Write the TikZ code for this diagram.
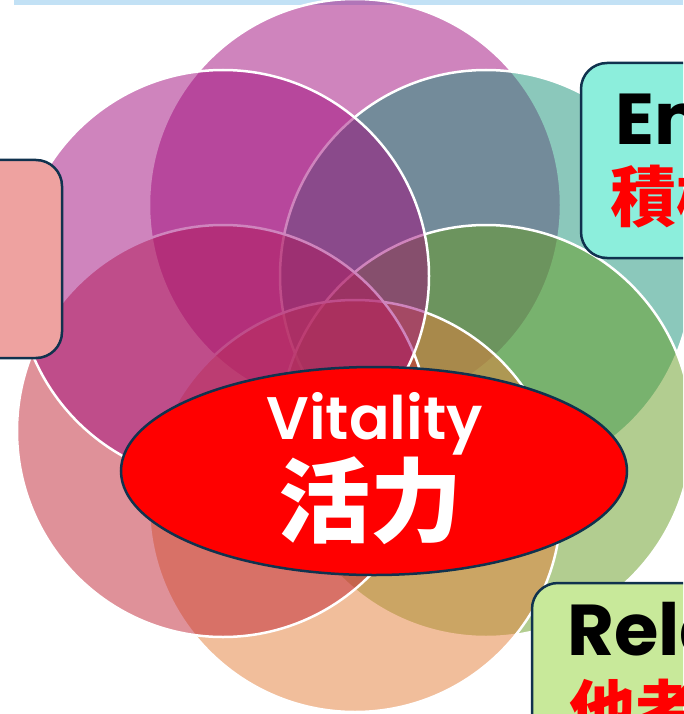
\documentclass[tikz,border=0pt]{standalone}
\usepackage{fontspec}
\usetikzlibrary{shapes.geometric}
\setmainfont{Poppins}
\newfontfamily\medfont{Poppins SemiBold}
\newfontfamily\cjk{Noto Sans CJK JP}
\definecolor{cTop}{RGB}{161,11,125}
\definecolor{cTeal}{RGB}{25,147,121}
\definecolor{cGreen}{RGB}{103,157,35}
\definecolor{cPeach}{RGB}{229,127,57}
\definecolor{cRose}{RGB}{193,37,53}
\definecolor{navy}{RGB}{16,50,78}
\definecolor{barblue}{RGB}{194,225,245}
\definecolor{aqua}{RGB}{140,238,220}
\definecolor{lime}{RGB}{200,233,154}
\definecolor{salmon}{RGB}{238,162,160}
\begin{document}
\begin{tikzpicture}[x=1pt,y=-1pt,
  petal/.style={fill=#1,fill opacity=0.5,draw=white,draw opacity=1,line width=2.5pt},
  card/.style={fill=#1,draw=navy,line width=2.5pt,rounded corners=26pt},
  hub/.style={ellipse,fill=red,draw=navy,line width=2.5pt,minimum width=506pt,minimum height=208pt,inner sep=0pt},
  entxt/.style={font=\bfseries\fontsize{72}{72}\selectfont,text=black,anchor=base west,inner sep=0pt},
  jptxt/.style={font=\cjk\bfseries\fontsize{66}{66}\selectfont,text=red,anchor=west,inner sep=0pt}]
\useasboundingbox (0,0) rectangle (683,714);
\clip (0,0) rectangle (683,714);
\fill[white] (0,0) rectangle (683,714);
\fill[barblue] (14,0) rectangle (683,5);
% petals
\path[petal=cTop]   (355,205) circle[radius=206pt];
\path[petal=cTeal]  (486,276) circle[radius=206pt];
\path[petal=cGreen] (486,431) circle[radius=206pt];
\path[petal=cPeach] (355,506) circle[radius=206pt];
\path[petal=cRose]  (223,431) circle[radius=206pt];
\path[petal=cTop]   (223,276) circle[radius=206pt];
% side cards
\draw[card=aqua]   (581,63) rectangle (900,258);
\draw[card=lime]   (532,583) rectangle (900,820);
\draw[card=salmon] (-200,160) rectangle (62,358);
\node[entxt] (eng) at (615,145) {Engagement};
\node[jptxt] (engjp) at (610,197) {積極性};
\node[entxt] (rel) at (567,655) {Relationships};
\node[jptxt] (reljp) at (569,710) {他者};
% hub
\node[hub] (hub) at (374,471) {};
\node[font=\medfont\fontsize{60}{60}\selectfont,text=white,anchor=base,inner sep=0pt] (vit) at (374.5,439) {Vitality};
\node[font=\cjk\bfseries\fontsize{92}{92}\selectfont,text=white,inner sep=0pt] (kat) at (370,501) {活力};
\end{tikzpicture}
\end{document}
